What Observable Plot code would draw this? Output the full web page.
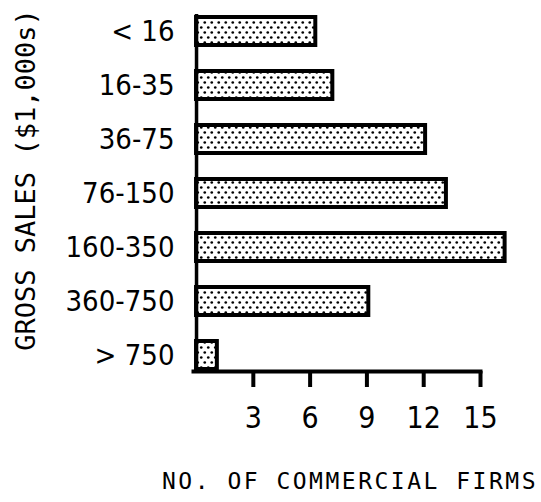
<!DOCTYPE html>
<html>
<head>
<meta charset="utf-8">
<script src="https://cdn.jsdelivr.net/npm/d3@7"></script>
<script src="https://cdn.jsdelivr.net/npm/@observablehq/plot@0.6"></script>
<style>
  html, body { margin: 0; padding: 0; background: white; }
  #chart svg { display: block; }
</style>
</head>
<body>
<div id="chart"></div>
<script>
const categories = ["< 16", "16-35", "36-75", "76-150", "160-350", "360-750", "> 750"];
const firms = [6.3, 7.2, 12.1, 13.2, 16.3, 9.1, 1.1];
const xTicks = [3, 6, 9, 12, 15];
const xTitle = "NO. OF COMMERCIAL FIRMS";
const yTitle = "GROSS SALES ($1,000s)";

const data = categories.map((c, i) => ({category: c, firms: firms[i]}));

const svg = Plot.plot({
  width: 541,
  height: 502,
  marginTop: 14,
  marginBottom: 131,
  marginLeft: 193,
  marginRight: 61,
  style: {fontFamily: "'DejaVu Sans Condensed', 'DejaVu Sans', sans-serif", fontStretch: "condensed", background: "white", color: "black"},
  x: {domain: [-0.16, 15]},
  y: {domain: categories, paddingInner: 0.49, paddingOuter: 0},
  marks: [
    Plot.barX(data, {x: "firms", y: "category", fill: "url(#dots)", stroke: "black", strokeWidth: 4, className: "bars"}),
    Plot.ruleX([0], {strokeWidth: 3.5}),
    Plot.frame({anchor: "bottom", strokeWidth: 4}),
    Plot.axisX({ticks: xTicks, tickSize: 16, tickPadding: 19, strokeWidth: 4, fontSize: 30, label: null}),
    Plot.axisY({tickSize: 0, tickPadding: 19, fontSize: 29, label: null}),
    Plot.text([xTitle], {frameAnchor: "bottom", text: d => d, dx: 13, dy: 110.5, fontSize: 23, fontFamily: "DejaVu Sans Mono", lineAnchor: "middle", textAnchor: "middle", className: "xtitle"}),
    Plot.text([yTitle], {frameAnchor: "left", text: d => d, rotate: -90, dx: -167, dy: -13, fontSize: 27, fontFamily: "DejaVu Sans Mono", lineAnchor: "middle", textAnchor: "middle", className: "ytitle"})
  ]
});

const defs = d3.select(svg).insert("defs", ":first-child");
const pat = defs.append("pattern")
  .attr("id", "dots")
  .attr("patternUnits", "userSpaceOnUse")
  .attr("width", 7)
  .attr("height", 10);
pat.append("rect").attr("width", 7).attr("height", 10).attr("fill", "white");
pat.append("circle").attr("cx", 1.75).attr("cy", 2.5).attr("r", 1.35).attr("fill", "black");
pat.append("circle").attr("cx", 5.25).attr("cy", 7.5).attr("r", 1.35).attr("fill", "black");

d3.select(svg).selectAll(".bars rect").attr("fill", "url(#dots)");
d3.select(svg).selectAll(".xtitle text").attr("letter-spacing", "2.5px");

document.getElementById("chart").appendChild(svg);
</script>
</body>
</html>
